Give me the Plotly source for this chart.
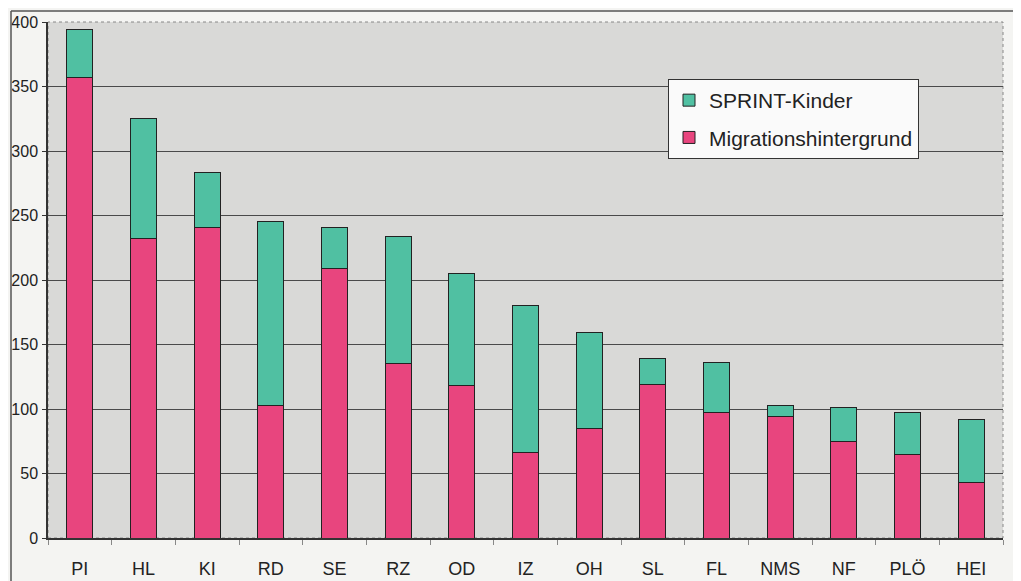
import plotly.graph_objects as go

categories = ["PI", "HL", "KI", "RD", "SE", "RZ", "OD", "IZ", "OH", "SL", "FL", "NMS", "NF", "PLÖ", "HEI"]
migration = [357, 232, 241, 103, 209, 135, 118, 66, 85, 119, 97, 94, 75, 65, 43]
sprint = [37, 93, 42, 142, 32, 99, 87, 114, 74, 20, 39, 9, 26, 32, 49]
y_ticks = [0, 50, 100, 150, 200, 250, 300, 350, 400]

PINK = "#E8457E"
TEAL = "#50C0A2"
FONT = "Liberation Sans, Arial, sans-serif"

# page is offset by 8px body margin: plot area at page x 48..1003, y 22..538
L, T, R, B = 40, 14, 18, 43
W, H = 1013, 573
pw, ph = W - L - R, H - T - B

fig = go.Figure()
fig.add_trace(go.Bar(x=categories, y=migration, name="Migrationshintergrund",
                     legendgroup="m", legendrank=2,
                     marker=dict(color=PINK, line=dict(color="#222222", width=1))))
fig.add_trace(go.Bar(x=categories, y=sprint, name="SPRINT-Kinder",
                     legendgroup="s", legendrank=1,
                     marker=dict(color=TEAL, line=dict(color="#222222", width=1))))

fig.update_layout(
    barmode="stack",
    bargap=0.59,
    width=W, height=H,
    margin=dict(l=L, r=R, t=T, b=B, autoexpand=False),
    paper_bgcolor="#F4F4F2",
    plot_bgcolor="#D9D9D7",
    font=dict(family=FONT, color="#222222"),
    showlegend=True,
    legend=dict(x=(668 - 48) / pw, y=(538 - 79) / ph,
                xanchor="left", yanchor="top", traceorder="grouped", tracegroupgap=7,
                bgcolor="#FAFAFA", bordercolor="#333333", borderwidth=1,
                font=dict(size=21, family=FONT, color="#222222")),
    xaxis=dict(showline=True, linecolor="#333333", linewidth=1.5, automargin=False,
               ticks="outside", ticklen=5, tickcolor="#888888",
               tickson="boundaries", ticklabelstandoff=14,
               tickfont=dict(size=18, family=FONT, color="#222222"),
               showgrid=False),
    yaxis=dict(range=[0, 400], tickvals=y_ticks, showline=True, linecolor="#333333", linewidth=1.5,
               automargin=False,
               ticks="outside", ticklen=4, tickcolor="#333333", ticklabelstandoff=1,
               tickfont=dict(size=16, family=FONT, color="#222222"),
               showgrid=True, gridcolor="#4A4A4A", gridwidth=1, zeroline=False),
    shapes=[
        dict(type="rect", xref="paper", yref="paper", x0=0, x1=1, y0=0, y1=1,
             line=dict(color="#888888", width=1, dash="dot"), layer="below"),
        dict(type="line", xref="paper", yref="paper", x0=-(L - 3) / pw, x1=-(L - 3) / pw,
             y0=-B / ph, y1=1 + (T - 3) / ph, line=dict(color="#555555", width=1.5)),
        dict(type="line", xref="paper", yref="paper", x0=-(L - 3) / pw, x1=1 + R / pw,
             y0=1 + (T - 3) / ph, y1=1 + (T - 3) / ph, line=dict(color="#555555", width=1.5)),
    ],
)

fig.write_html("out.html")
